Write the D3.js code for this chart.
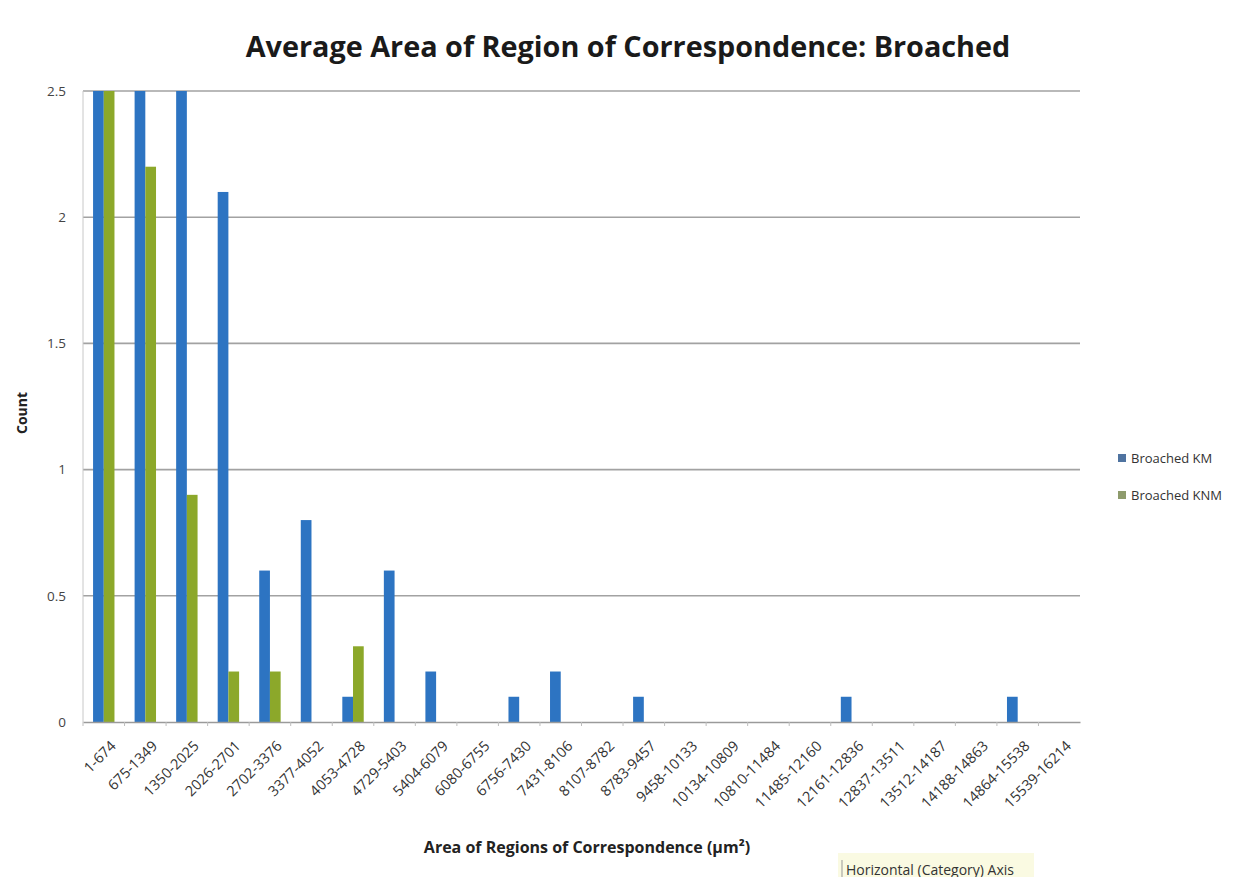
<!DOCTYPE html>
<html>
<head>
<meta charset="utf-8">
<script src="https://cdn.jsdelivr.net/npm/d3@7"></script>
<style>
  html, body { margin: 0; padding: 0; background: #ffffff; }
  svg { display: block; }
  text { font-family: "Open Sans", "Noto Sans", sans-serif; }
</style>
</head>
<body>
<svg id="chart" width="1259" height="888"></svg>
<script>
// Area bins (µm²)
const categories = [
  "1-674", "675-1349", "1350-2025", "2026-2701", "2702-3376", "3377-4052",
  "4053-4728", "4729-5403", "5404-6079", "6080-6755", "6756-7430", "7431-8106",
  "8107-8782", "8783-9457", "9458-10133", "10134-10809", "10810-11484", "11485-12160",
  "12161-12836", "12837-13511", "13512-14187", "14188-14863", "14864-15538", "15539-16214"
];
const seriesNames = ["Broached KM", "Broached KNM"];
const broachedKM = [2.5, 2.5, 2.5, 2.1, 0.6, 0.8, 0.1, 0.6, 0.2, 0, 0.1, 0.2,
                    0, 0.1, 0, 0, 0, 0, 0.1, 0, 0, 0, 0.1, 0];
const broachedKNM = [2.5, 2.2, 0.9, 0.2, 0.2, 0, 0.3, 0, 0, 0, 0, 0,
                     0, 0, 0, 0, 0, 0, 0, 0, 0, 0, 0, 0];
const yTicks = [0, 0.5, 1, 1.5, 2, 2.5];

const colors = ["#2d74c2", "#8ca82a"];
const legendColors = ["#4f73a0", "#8e9b6c"];

const svg = d3.select("#chart");
const margin = { left: 83, right: 1080, top: 91, bottom: 722 };

const x = d3.scaleBand().domain(categories).range([margin.left, margin.right]).paddingInner(0).paddingOuter(0);
const xSub = d3.scaleBand().domain(seriesNames).range([0, x.bandwidth()]).paddingInner(0).paddingOuter(0.94);
const y = d3.scaleLinear().domain([0, 2.5]).range([margin.bottom, margin.top]);

// horizontal gridlines
svg.append("g")
  .selectAll("line")
  .data(yTicks.filter(d => d > 0))
  .join("line")
  .attr("x1", margin.left).attr("x2", margin.right)
  .attr("y1", d => y(d)).attr("y2", d => y(d))
  .attr("stroke", "#a2a2a2").attr("stroke-width", 1.6);

// vertical axis line
svg.append("line")
  .attr("x1", margin.left).attr("x2", margin.left)
  .attr("y1", margin.top).attr("y2", margin.bottom)
  .attr("stroke", "#c8c8c8").attr("stroke-width", 1);

// y axis labels
const yAxis = d3.axisLeft(y).tickValues(yTicks).tickFormat(d3.format("")).tickSize(0).tickPadding(0);
const yg = svg.append("g").attr("transform", `translate(${margin.left - 17},0)`).call(yAxis);
yg.select(".domain").remove();
yg.selectAll("text")
  .attr("font-size", 13.5).attr("fill", "#444")
  .style("font-family", "'Open Sans', sans-serif");

// bars
const series = [broachedKM, broachedKNM];
const groups = svg.append("g")
  .selectAll("g")
  .data(categories.map((c, i) => ({ c, vals: series.map((s, k) => ({ name: seriesNames[k], v: s[i], k })) })))
  .join("g")
  .attr("transform", d => `translate(${x(d.c)},0)`);

groups.selectAll("rect")
  .data(d => d.vals.filter(e => e.v > 0))
  .join("rect")
  .attr("x", e => xSub(e.name))
  .attr("width", xSub.bandwidth())
  .attr("y", e => y(e.v))
  .attr("height", e => y(0) - y(e.v))
  .attr("fill", e => colors[e.k]);

// x axis line and ticks
const xAxis = d3.axisBottom(x).tickSize(0).tickFormat("");
const xg = svg.append("g").attr("transform", `translate(0,${margin.bottom})`).call(xAxis);
xg.select(".domain").attr("stroke", "#9a9a9a").attr("stroke-width", 1.5);
xg.selectAll(".tick").remove();
svg.append("g")
  .selectAll("line")
  .data(categories)
  .join("line")
  .attr("x1", d => x(d)).attr("x2", d => x(d))
  .attr("y1", margin.bottom).attr("y2", margin.bottom + 4)
  .attr("stroke", "#bdbdbd");

// rotated category labels
svg.append("g")
  .selectAll("text")
  .data(categories)
  .join("text")
  .attr("transform", d => `translate(${x(d) + x.bandwidth() / 2 + 13},${margin.bottom + 25}) rotate(-45)`)
  .attr("text-anchor", "end")
  .attr("font-size", 14.5)
  .attr("fill", "#333")
  .text(d => d);

// title
svg.append("text")
  .attr("x", 628).attr("y", 57)
  .attr("text-anchor", "middle")
  .attr("font-size", 28.8).attr("font-weight", "bold").attr("fill", "#1a1a1a")
  .text("Average Area of Region of Correspondence: Broached");

// axis titles
svg.append("text")
  .attr("transform", "translate(27,413) rotate(-90)")
  .attr("text-anchor", "middle")
  .attr("font-size", 14).attr("font-weight", "bold").attr("fill", "#222")
  .text("Count");

svg.append("text")
  .attr("x", 587).attr("y", 853)
  .attr("text-anchor", "middle")
  .attr("font-size", 16).attr("font-weight", "bold").attr("fill", "#222")
  .text("Area of Regions of Correspondence (µm²)");

// legend
const legend = svg.append("g")
  .selectAll("g")
  .data(seriesNames)
  .join("g")
  .attr("transform", (d, i) => `translate(1118,${458 + i * 37})`);
legend.append("rect")
  .attr("x", 0).attr("y", -4).attr("width", 8).attr("height", 8)
  .attr("fill", (d, i) => legendColors[i]);
legend.append("text")
  .attr("x", 13).attr("y", 5)
  .attr("font-size", 13).attr("fill", "#333")
  .text(d => d);

// hover tooltip on the category axis, cut off at the bottom of the view
svg.append("clipPath").attr("id", "tipClip")
  .append("rect").attr("x", 830).attr("y", 840).attr("width", 230).attr("height", 37);
const tip = svg.append("g").attr("clip-path", "url(#tipClip)");
tip.append("rect")
  .attr("x", 838).attr("y", 853).attr("width", 196).attr("height", 40)
  .attr("fill", "#fafae2");
tip.append("line")
  .attr("x1", 842).attr("x2", 842).attr("y1", 860).attr("y2", 877)
  .attr("stroke", "#999").attr("stroke-width", 1);
tip.append("text")
  .attr("x", 846).attr("y", 875)
  .attr("font-size", 14).attr("fill", "#333")
  .text("Horizontal (Category) Axis");
</script>
</body>
</html>
